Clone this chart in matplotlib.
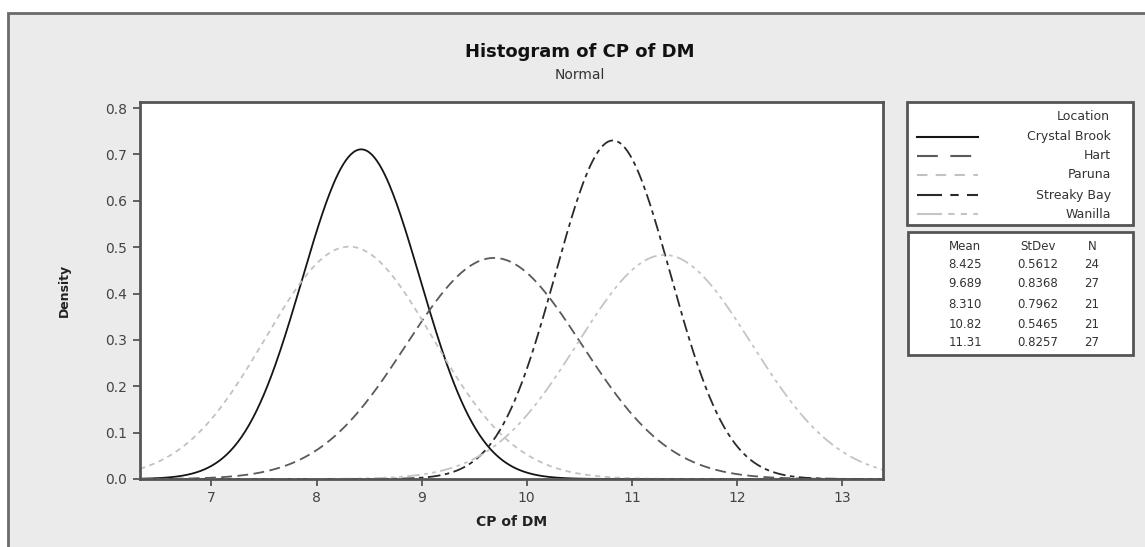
import numpy as np
import matplotlib
matplotlib.use("Agg")
import matplotlib.pyplot as plt
from matplotlib.patches import Rectangle
from matplotlib.lines import Line2D

# Fitted normal parameters, as printed in the chart's table
locations = ["Crystal Brook", "Hart", "Paruna", "Streaky Bay", "Wanilla"]
means = [8.425, 9.689, 8.310, 10.82, 11.31]
stdevs = [0.5612, 0.8368, 0.7962, 0.5465, 0.8257]
counts = [24, 27, 21, 21, 27]
mean_labels = ["8.425", "9.689", "8.310", "10.82", "11.31"]
stdev_labels = ["0.5612", "0.8368", "0.7962", "0.5465", "0.8257"]

x_ticks = [7, 8, 9, 10, 11, 12, 13]
y_ticks = [0.0, 0.1, 0.2, 0.3, 0.4, 0.5, 0.6, 0.7, 0.8]

# line style per location (colour, dash pattern)
styles = [
    ("#151515", None),
    ("#5a5a5a", (6, 3)),
    ("#c2c2c2", (3, 2.5)),
    ("#2a2a2a", (7, 2.5, 2.5, 2.5)),
    ("#c4c4c4", (7, 2.5, 2, 2.5, 2, 2.5)),
]
# longer dashes for the legend samples
legend_dashes = [None, (10, 6), (5, 4), (12, 4, 4, 4), (12, 3, 3, 3, 3, 3)]

W, H = 1145, 547
fig = plt.figure(figsize=(W / 100, H / 100), dpi=100, facecolor="white")

# grey panel with frame
fig.patches.append(Rectangle((8 / W, -0.05), 1.2, 1 - 13 / H + 0.05,
                             transform=fig.transFigure, facecolor="#ebebeb",
                             edgecolor="#6a6a6a", linewidth=2, zorder=-5))

ax = fig.add_axes([140 / W, 1 - 479 / H, (883 - 140) / W, (479 - 102) / H])
ax.set_facecolor("white")

x_lo, x_hi = 6.32, 13.39
xs = np.linspace(x_lo, x_hi, 600)
for mu, sd, (col, dash) in zip(means, stdevs, styles):
    ys = np.exp(-0.5 * ((xs - mu) / sd) ** 2) / (sd * np.sqrt(2 * np.pi))
    ln, = ax.plot(xs, ys, color=col, lw=1.3)
    if dash:
        ln.set_dashes(dash)

ax.set_xlim(x_lo, x_hi)
ax.set_ylim(0, 0.813)
ax.set_xticks(x_ticks)
ax.set_yticks(y_ticks)
ax.set_yticklabels([f"{v:.1f}" for v in y_ticks])
ax.tick_params(direction="out", length=5, width=1.3, color="#555555",
               labelcolor="#444444", labelsize=10, pad=4)
for s in ax.spines.values():
    s.set_color("#555555")
    s.set_linewidth(2)

ax.set_xlabel("CP of DM", fontsize=10, fontweight="bold", color="#222222", labelpad=7)
ax.set_ylabel("Density", fontsize=9, fontweight="bold", color="#222222", labelpad=25)

fig.text(580 / W, 1 - 52 / H, "Histogram of CP of DM", ha="center", va="center",
         fontsize=13, fontweight="bold", color="#111111")
fig.text(580 / W, 1 - 75 / H, "Normal", ha="center", va="center",
         fontsize=10, color="#333333")

# legend box (Location)
fig.patches.append(Rectangle((907 / W, 1 - 225 / H), (1133 - 907) / W, (225 - 102) / H,
                             transform=fig.transFigure, facecolor="white",
                             edgecolor="#555555", linewidth=2, zorder=1))
fig.text(1110 / W, 1 - 117 / H, "Location", ha="right", va="center",
         fontsize=9, color="#333333", zorder=3)
row_y = [137, 156, 175, 195, 214]
for name, (col, _), dash, yy in zip(locations, styles, legend_dashes, row_y):
    yf = 1 - yy / H
    ln = Line2D([917 / W, 978 / W], [yf, yf], transform=fig.transFigure,
                color=col, lw=1.5, zorder=3)
    if dash:
        ln.set_dashes(dash)
    fig.lines.append(ln)
    fig.text(1111 / W, yf, name, ha="right", va="center", fontsize=9,
             color="#333333", zorder=3)

# stats table box
fig.patches.append(Rectangle((908 / W, 1 - 355 / H), (1133 - 908) / W, (355 - 232) / H,
                             transform=fig.transFigure, facecolor="white",
                             edgecolor="#555555", linewidth=2, zorder=1))
col_x = [965, 1038, 1092]
for cx, head in zip(col_x, ["Mean", "StDev", "N"]):
    fig.text(cx / W, 1 - 246 / H, head, ha="center", va="center", fontsize=8.5,
             color="#333333", zorder=3)
table_y = [264, 284, 304, 324, 343]
for m, s, n, yy in zip(mean_labels, stdev_labels, counts, table_y):
    yf = 1 - yy / H
    for cx, val in zip(col_x, [m, s, str(n)]):
        fig.text(cx / W, yf, val, ha="center", va="center", fontsize=8.5,
                 color="#333333", zorder=3)

fig.savefig("out.png", dpi=100, facecolor="white")
